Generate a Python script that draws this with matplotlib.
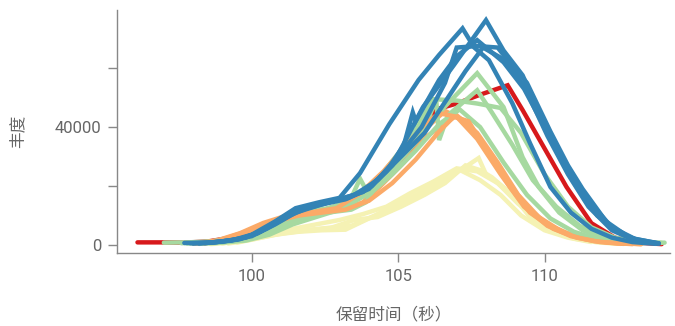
import matplotlib
matplotlib.use("Agg")
import matplotlib.pyplot as plt

# Retention time (s) and abundance for each run, grouped by sample colour
red_t = [
    [96.1, 96.9, 97.7, 98.5, 99.3, 100.1, 100.9, 101.7, 102.5, 103.3, 104.1, 104.9,
     105.7, 106.3, 107.0, 107.8, 108.74, 109.25, 110.17, 110.75, 111.6, 112.4, 113.2, 114.0],
]
red_y = [
    [900, 900, 800, 1200, 2500, 5500, 8500, 10500, 12000, 14500, 19500, 27000,
     35500, 46000, 48000, 51000, 54200, 45800, 29800, 19700, 7400, 2500, 800, 300],
]

orange_t = [
    [98.0, 98.8, 99.6, 100.4, 101.2, 102.0, 102.8, 103.6, 104.4, 105.2, 106.0, 106.6,
     107.3, 108.0, 108.7, 109.4, 110.1, 110.9, 111.7, 112.5, 113.3],
    [98.3, 99.1, 99.9, 100.7, 101.5, 102.3, 103.1, 103.8, 104.4, 105.2, 106.0, 107.0,
     107.7, 108.4, 109.1, 109.8, 110.6, 111.4, 112.2, 113.0],
    [98.1, 98.9, 99.7, 100.5, 101.3, 102.1, 102.9, 103.7, 104.5, 105.3, 105.9, 106.4,
     107.0, 107.7, 108.5, 109.3, 110.1, 110.9, 111.7, 112.5, 113.3],
    [98.4, 99.2, 100.0, 100.8, 101.6, 102.4, 103.2, 104.0, 104.8, 105.6, 106.4, 106.9,
     107.4, 108.1, 108.8, 109.5, 110.3, 111.1, 111.9, 112.7],
]
orange_y = [
    [500, 1500, 4000, 7500, 10000, 11500, 12500, 16000, 23000, 31000, 40000, 45500,
     42000, 33000, 22000, 13000, 7000, 3500, 1500, 700, 300],
    [400, 1800, 4500, 7000, 9500, 11000, 12000, 14500, 20000, 28000, 37000, 44000,
     38000, 28000, 17000, 9500, 4500, 2000, 800, 300],
    [500, 1600, 4200, 7200, 9800, 11200, 12500, 17500, 25000, 34000, 41000, 44700,
     43500, 36000, 24000, 13000, 6500, 3000, 1300, 600, 300],
    [600, 2000, 5000, 8000, 10000, 11000, 12000, 15000, 21000, 29000, 38500, 43500,
     42000, 31000, 20000, 11000, 5500, 2500, 1000, 400],
]

yellow_t = [
    [98.6, 99.4, 100.2, 101.0, 101.8, 102.6, 103.4, 104.2, 105.0, 105.8, 106.6, 107.3,
     107.75, 108.0, 108.8, 109.5, 110.3, 111.1, 111.9, 112.7],
    [99.0, 99.8, 100.6, 101.4, 102.2, 103.0, 103.8, 104.6, 105.4, 106.2, 107.0, 107.7,
     108.4, 109.1, 109.9, 110.7, 111.5, 112.3],
    [99.2, 100.0, 100.8, 101.6, 102.4, 103.2, 104.0, 104.8, 105.6, 106.4, 107.1, 107.8,
     108.5, 109.2, 110.0, 110.8, 111.6],
    [99.5, 100.3, 101.1, 101.9, 102.7, 103.5, 104.3, 105.1, 105.9, 106.6, 107.3, 107.8,
     108.2, 108.9, 109.5, 110.2, 111.0, 111.8, 112.6],
]
yellow_y = [
    [300, 1000, 2500, 4000, 5000, 5800, 6500, 10000, 14000, 18000, 23000, 26500,
     29500, 24000, 18000, 11000, 5500, 2500, 1000, 400],
    [500, 2000, 4000, 5500, 7000, 8500, 10500, 13000, 17500, 21500, 26000, 25000,
     21000, 14000, 7500, 3500, 1500, 600],
    [500, 1800, 3500, 4500, 5000, 5200, 9000, 12000, 16000, 20500, 25500, 22000,
     17000, 10000, 5000, 2500, 1000],
    [800, 2500, 4000, 5000, 5800, 8500, 9500, 13000, 17000, 21000, 27000, 25400,
     23000, 17000, 9500, 5000, 2200, 900, 400],
]

green_t = [
    [97.0, 97.8, 98.6, 99.4, 100.2, 101.0, 101.8, 102.6, 103.4, 104.2, 105.0, 105.8,
     106.6, 107.7, 108.6, 109.25, 109.8, 110.5, 111.3, 112.1, 112.9, 113.6, 114.1],
    [97.6, 98.4, 99.2, 100.0, 100.8, 101.6, 102.4, 103.2, 104.0, 105.0, 105.8, 106.3,
     106.4, 106.7, 107.7, 108.2, 108.9, 109.6, 110.4, 111.2, 112.0, 112.8, 113.6],
    [97.8, 98.6, 99.4, 100.2, 101.0, 101.8, 102.6, 103.4, 103.9, 104.6, 105.4, 106.2,
     107.0, 107.7, 108.5, 109.2, 110.0, 110.8, 111.6, 112.4, 113.2, 114.0],
    [98.2, 99.0, 99.8, 100.6, 101.4, 102.2, 103.0, 103.4, 103.7, 104.0, 104.8, 105.6,
     106.4, 107.1, 107.8, 108.6, 109.4, 110.2, 111.0, 111.8, 112.6, 113.4],
]
green_y = [
    [800, 900, 1200, 2500, 5000, 8500, 11000, 12500, 15000, 21000, 29000, 38000,
     47000, 58300, 46800, 29800, 19700, 11000, 5000, 2200, 1000, 800, 800],
    [600, 1000, 1800, 3500, 6500, 9500, 11500, 13000, 17500, 28000, 37000, 49500,
     35600, 44000, 52500, 45000, 34000, 22000, 13000, 6500, 3000, 1200, 700],
    [500, 900, 1600, 3200, 6000, 9000, 11000, 12000, 14500, 26000, 36000, 49500,
     49000, 48000, 46500, 38000, 24000, 13000, 6000, 2500, 1000, 700],
    [400, 800, 1500, 3500, 7000, 9500, 12000, 16000, 22500, 17000, 24000, 32000,
     41000, 46000, 40000, 28000, 17000, 9000, 4500, 2000, 1000, 600],
]

blue_t = [
    [97.7, 98.5, 99.3, 100.0, 100.8, 101.5, 102.3, 103.0, 103.7, 104.7, 105.7, 106.4,
     107.2, 107.6, 108.1, 108.9, 109.5, 110.2, 110.9, 111.6, 112.3, 113.0, 113.8],
    [97.9, 98.7, 99.5, 100.2, 101.0, 101.7, 102.5, 103.2, 104.0, 104.8, 105.85, 106.9,
     108.0, 108.6, 109.25, 110.05, 110.6, 111.1, 111.8, 112.5, 113.2, 113.9],
    [98.0, 98.8, 99.6, 100.3, 101.1, 101.8, 102.6, 103.3, 104.1, 105.0, 105.8, 106.6,
     107.0, 107.7, 108.4, 108.8, 109.4, 110.2, 110.8, 111.3, 112.1, 112.9, 113.9],
    [98.2, 99.0, 99.8, 100.5, 101.3, 102.0, 102.8, 103.5, 104.3, 105.1, 105.9, 106.7,
     107.3, 107.9, 108.6, 109.3, 110.1, 110.8, 111.5, 112.3, 113.1],
    [98.4, 99.2, 100.0, 100.8, 101.5, 102.3, 103.0, 103.8, 104.6, 105.2, 105.5, 105.6,
     106.4, 107.0, 107.7, 108.6, 109.3, 110.0, 110.7, 111.5, 112.3, 113.1, 113.9],
]
blue_y = [
    [700, 800, 1500, 3500, 8000, 12500, 14500, 16000, 24400, 41000, 56000, 64500,
     73500, 67000, 62700, 48100, 34600, 19700, 11000, 5500, 2500, 1000, 400],
    [600, 900, 1800, 4000, 9000, 12000, 14000, 15500, 19000, 27000, 46800, 61000,
     76300, 66000, 57600, 40000, 28800, 19700, 10000, 4500, 1500, 500],
    [500, 1000, 2000, 4500, 9500, 12500, 14500, 16000, 20000, 30000, 40000, 55000,
     67000, 67500, 67000, 62000, 55000, 38500, 27000, 19000, 8000, 2500, 500],
    [500, 1200, 2500, 5500, 10000, 13000, 15000, 17000, 22000, 30000, 38000, 50000,
     59000, 67000, 63000, 54000, 37000, 24000, 13000, 5000, 1500],
    [600, 1500, 3000, 7000, 11000, 13500, 15500, 18000, 25000, 34000, 45000, 42000,
     56000, 64000, 69500, 62000, 53000, 40000, 28000, 15000, 6000, 2000, 600],
]

x_ticks = [100, 105, 110]
y_ticks = [0, 20000, 40000, 60000]
y_tick_labels = ["0", "", "40000", ""]

ORANGE = "#fbaa68"
# drawing order: later entries sit on top
layers = [
    (yellow_t, yellow_y, "#f5f2b4"),
    (red_t, red_y, "#d7191c"),
    (orange_t[:2], orange_y[:2], ORANGE),
    (green_t, green_y, "#a6d9a0"),
    (orange_t[2:], orange_y[2:], ORANGE),
    (blue_t, blue_y, "#3383b5"),
]

fig = plt.figure(figsize=(6.75, 3.26), dpi=100)
ax = fig.add_axes([0.1733, 0.224, 0.82, 0.745])

for ts, ys, color in layers:
    for t, y in zip(ts, ys):
        ax.plot(t, y, color=color, lw=3.2, solid_capstyle="round", solid_joinstyle="miter")

ax.set_xlim(95.4, 114.3)
ax.set_ylim(-2700, 79700)
ax.set_xticks(x_ticks)
ax.set_yticks(y_ticks)
ax.set_yticklabels(y_tick_labels)

for side in ("top", "right"):
    ax.spines[side].set_visible(False)
for side in ("left", "bottom"):
    ax.spines[side].set_color("#888888")
    ax.spines[side].set_linewidth(1.0)

ax.tick_params(axis="both", colors="#888888", labelcolor="#666666", length=6.5,
               width=1.0, labelsize=12, pad=5)
for lbl in ax.get_xticklabels() + ax.get_yticklabels():
    lbl.set_fontfamily("Roboto")

ax.set_xlabel("保留时间（秒）", family=["Noto Sans CJK SC", "DejaVu Sans"],
              fontsize=12, color="#666666", labelpad=16)
ax.set_ylabel("丰度", family=["Noto Sans CJK SC", "DejaVu Sans"],
              fontsize=12, color="#666666", labelpad=20)

fig.savefig("out.png", dpi=100)
